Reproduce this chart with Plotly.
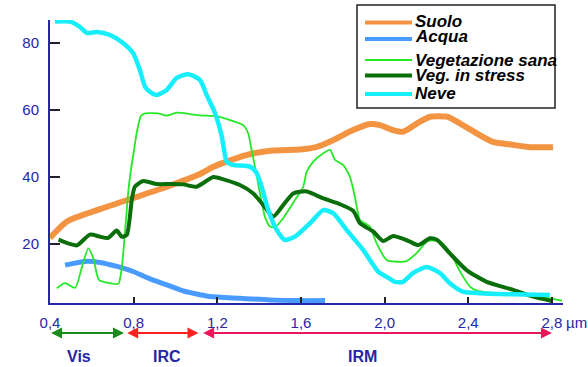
import plotly.graph_objects as go

# ---- data (wavelength in µm, reflectance %) ----
suolo_x = [0.400, 0.481, 0.639, 0.797, 0.959, 1.117, 1.179, 1.342, 1.466, 1.595, 1.676, 1.753,
           1.849, 1.930, 1.978, 2.040, 2.088, 2.169, 2.217, 2.298, 2.360, 2.441, 2.518, 2.614,
           2.695, 2.805]
suolo_y = [21.8, 26.7, 30.4, 33.7, 37.1, 40.9, 43.0, 46.6, 47.9, 48.2, 49.0, 51.0,
           54.0, 55.8, 55.5, 54.0, 53.5, 56.5, 58.0, 58.0, 56.0, 53.0, 50.5, 49.6,
           48.9, 48.9]

acqua_x = [0.472, 0.567, 0.639, 0.720, 0.797, 0.878, 0.959, 1.036, 1.084, 1.165, 1.308,
           1.452, 1.595, 1.715]
acqua_y = [13.7, 14.8, 14.5, 13.3, 11.8, 9.6, 7.8, 6.0, 5.3, 4.3, 3.8, 3.3, 3.1, 3.1]

sana_x = [0.433, 0.472, 0.520, 0.553, 0.583, 0.607, 0.634, 0.687, 0.727, 0.743, 0.759, 0.774,
          0.787, 0.802, 0.816, 0.835, 0.854, 0.916, 0.958, 1.006, 1.069, 1.117, 1.197, 1.275,
          1.324, 1.348, 1.364, 1.380, 1.404, 1.428, 1.452, 1.476, 1.515, 1.571, 1.611, 1.627,
          1.659, 1.707, 1.739, 1.763, 1.802, 1.834, 1.858, 1.882, 1.906, 1.930, 1.962, 2.010,
          2.058, 2.105, 2.153, 2.207, 2.265, 2.312, 2.365, 2.408, 2.441, 2.504, 2.661, 2.790,
          2.848]
sana_y = [6.8, 8.3, 6.9, 13.2, 18.7, 15.8, 9.3, 8.3, 8.1, 12.8, 23.9, 35.5,
          42.1, 48.1, 53.7, 58.2, 59.0, 59.0, 58.3, 59.2, 58.8, 58.4, 58.1, 56.7,
          55.5, 53.0, 48.1, 43.1, 35.1, 28.1, 25.2, 25.1, 27.7, 33.1, 37.1, 41.5,
          44.6, 47.1, 48.1, 45.1, 43.6, 40.1, 34.1, 27.2, 26.2, 25.2, 20.2, 15.2,
          14.7, 14.9, 17.3, 20.9, 20.7, 17.6, 11.3, 7.3, 6.1, 5.5, 4.8, 3.8,
          3.1]

stress_x = [0.441, 0.486, 0.529, 0.591, 0.639, 0.677, 0.719, 0.743, 0.767, 0.791, 0.806, 0.846,
            0.910, 0.974, 1.037, 1.101, 1.181, 1.229, 1.308, 1.372, 1.420, 1.468, 1.515, 1.563,
            1.627, 1.707, 1.786, 1.850, 1.882, 1.946, 1.993, 2.041, 2.089, 2.121, 2.161, 2.217,
            2.250, 2.312, 2.392, 2.488, 2.615, 2.711, 2.799]
stress_y = [21.3, 20.2, 19.6, 22.8, 22.2, 21.8, 24.0, 22.2, 22.7, 33.1, 37.1, 38.8,
            37.9, 37.9, 37.8, 37.1, 40.0, 39.3, 37.6, 35.1, 31.6, 28.2, 31.6, 35.1,
            35.7, 33.6, 31.9, 29.9, 26.2, 23.7, 20.9, 22.4, 21.5, 20.7, 19.7, 21.7,
            21.3, 17.2, 12.2, 8.7, 6.3, 4.3, 3.0]

neve_x = [0.424, 0.496, 0.543, 0.577, 0.625, 0.687, 0.749, 0.797, 0.830, 0.854, 0.878, 0.910,
          0.958, 1.006, 1.061, 1.117, 1.149, 1.189, 1.221, 1.245, 1.275, 1.356, 1.388, 1.412,
          1.444, 1.484, 1.523, 1.571, 1.643, 1.707, 1.754, 1.818, 1.898, 1.970, 2.010, 2.049,
          2.088, 2.135, 2.201, 2.265, 2.312, 2.374, 2.456, 2.613, 2.790]
neve_y = [86.4, 86.4, 84.8, 83.0, 83.3, 82.4, 80.0, 77.0, 71.9, 67.0, 65.4, 64.5,
          66.0, 69.6, 70.7, 69.0, 64.5, 59.1, 52.2, 44.6, 43.6, 43.1, 41.2, 37.1,
          30.1, 24.2, 21.2, 22.2, 26.2, 30.1, 29.2, 24.2, 18.2, 11.7, 10.2, 8.7,
          8.7, 11.3, 13.1, 11.3, 8.3, 5.8, 5.3, 5.0, 4.8]

x_tickvals = [0.4, 0.8, 1.2, 1.6, 2.0, 2.4, 2.8]
x_ticktext = ["0,4", "0,8", "1,2", "1,6", "2,0", "2,4", "2,8"]
y_tickvals = [20, 40, 60, 80]

bands = ["Vis", "IRC", "IRM"]
band_start = [0.398, 0.762, 1.125]
band_end = [0.754, 1.110, 2.800]
band_label_x = [0.539, 0.959, 1.892]
band_colors = ["#1a8a1a", "#ff2020", "#e8185a"]

NAVY = "#2626a6"

series = [
    ("Suolo", suolo_x, suolo_y, "#f39442", 6, 4),
    ("Acqua", acqua_x, acqua_y, "#4a9bff", 5, 4),
    ("Vegetazione sana", sana_x, sana_y, "#26e826", 1.8, 2),
    ("Veg. in stress", stress_x, stress_y, "#0a6e0a", 4, 4),
    ("Neve", neve_x, neve_y, "#16eefc", 4.5, 4),
]

# layout geometry (pixels of the 588x367 page)
L, R, T, B = 50, 563, 20, 303
W, H = R - L, B - T
def px(x):
    return (x - L) / W
def py(y):
    return (B - y) / H

# legend geometry (pixels)
leg_box = (357, 5, 555, 108)
leg_line_x = (365, 412)
leg_text_x = 413
leg_line_y = [22.5, 39, 60, 75.5, 94]
leg_text_y = [21, 36.5, 60, 75, 94]

fig = go.Figure()
for name, xs, ys, col, w, lw in series:
    fig.add_trace(go.Scatter(x=xs, y=ys, name=name, mode="lines", showlegend=False,
                             line=dict(color=col, width=w, shape="spline", smoothing=0.6)))

shapes = [dict(type="rect", xref="paper", yref="paper",
               x0=px(leg_box[0]), x1=px(leg_box[2]), y0=py(leg_box[3]), y1=py(leg_box[1]),
               line=dict(color="#222222", width=1.5), fillcolor="white", layer="above")]
annotations = []
for (name, xs, ys, col, w, lw), ly, ty in zip(series, leg_line_y, leg_text_y):
    shapes.append(dict(type="line", xref="paper", yref="paper",
                       x0=px(leg_line_x[0]), x1=px(leg_line_x[1]), y0=py(ly), y1=py(ly),
                       line=dict(color=col, width=lw), layer="above"))
    annotations.append(dict(x=px(leg_text_x), y=py(ty), xref="paper", yref="paper",
                            text="<b><i>" + name + "</i></b>", showarrow=False,
                            xanchor="left", yanchor="middle",
                            font=dict(size=17, color="black")))

for lab, s, e, lx, c in zip(bands, band_start, band_end, band_label_x, band_colors):
    annotations.append(dict(x=e, y=py(333), xref="x", yref="y domain", ax=s, ay=py(333),
                            axref="x", ayref="y domain", text="", showarrow=True,
                            arrowhead=2, arrowside="end+start", arrowsize=1.1,
                            arrowwidth=2, arrowcolor=c))
    annotations.append(dict(x=lx, y=py(356), xref="x", yref="paper", text="<b>" + lab + "</b>",
                            showarrow=False, font=dict(size=16, color=NAVY),
                            xanchor="center", yanchor="middle"))
annotations.append(dict(x=1.0, y=py(322), xref="paper", yref="paper", text="µm", showarrow=False,
                        xanchor="left", yanchor="middle", xshift=1,
                        font=dict(size=15, color=NAVY)))

fig.update_layout(
    width=588, height=367,
    margin=dict(l=L, r=588 - R, t=T, b=367 - B, autoexpand=False),
    paper_bgcolor="white", plot_bgcolor="white",
    font=dict(family="Liberation Sans, Arial, sans-serif", size=15, color=NAVY),
    showlegend=False,
    shapes=shapes,
    annotations=annotations,
)
fig.update_xaxes(range=[0.4, 2.853], tickvals=x_tickvals, ticktext=x_ticktext,
                 showline=True, linecolor=NAVY, linewidth=2, showgrid=False, zeroline=False,
                 ticks="inside", ticklen=6, tickwidth=1.5, tickcolor="#222222",
                 ticklabelstandoff=5, tickfont=dict(size=15, color=NAVY))
fig.update_yaxes(range=[2.39, 86.87], tickvals=y_tickvals,
                 showline=True, linecolor=NAVY, linewidth=2, showgrid=False, zeroline=False,
                 ticks="inside", ticklen=10, tickwidth=2, tickcolor="#222222",
                 ticklabelstandoff=6, tickfont=dict(size=15, color=NAVY))

fig.write_html("out.html", config={"displayModeBar": False},
               post_script="document.body.style.margin='0';document.body.style.overflow='hidden';")
